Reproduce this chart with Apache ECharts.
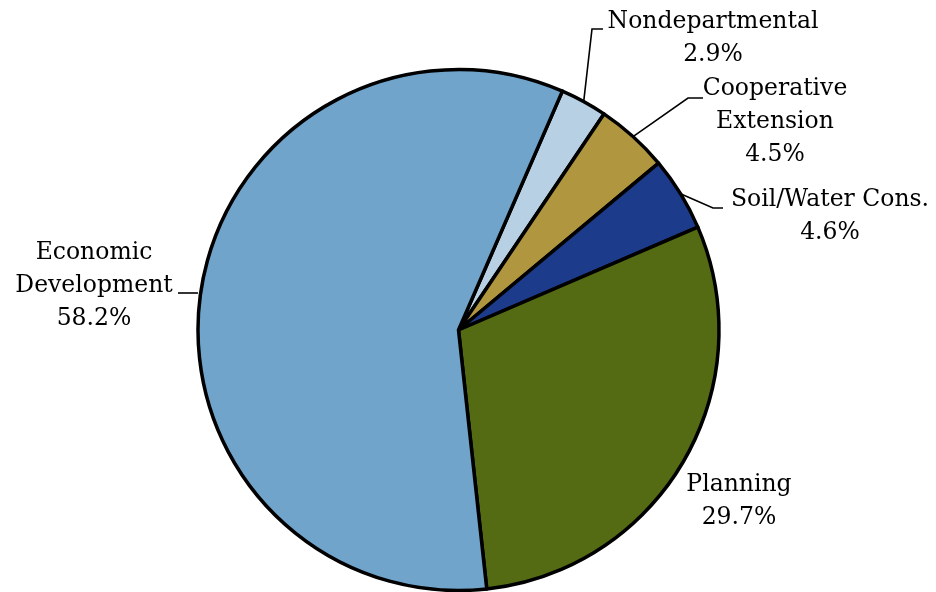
<!DOCTYPE html>
<html>
<head>
<meta charset="utf-8">
<script src="https://cdn.jsdelivr.net/npm/echarts@6/dist/echarts.min.js"></script>
<style>
  html, body { margin: 0; padding: 0; background: #ffffff; }
  #chart { width: 936px; height: 592px; }
</style>
</head>
<body>
<div id="chart"></div>
<script>
// Budget share by department (percent), listed clockwise from the top
const categories = ['Nondepartmental', 'Cooperative\nExtension', 'Soil/Water Cons.', 'Planning', 'Economic\nDevelopment'];
const shares = [2.9, 4.5, 4.6, 29.7, 58.2];
const sliceColors = ['#b8d0e4', '#b0963e', '#1d3b8b', '#546b13', '#70a4cb'];

// Where each label block sits, plus the bend and end of its leader line
const labelPlacement = [
  { x: 713, y: 38,  bend: [592, 29],  end: [603, 29] },
  { x: 775, y: 122, bend: [688, 98],  end: [703, 98] },
  { x: 830, y: 216, bend: [713, 208], end: [723, 208] },
  { x: 739, y: 501 },
  { x: 94,  y: 286, level: 293, bend: [187, 293], end: [178, 293] }
];

const chart = echarts.init(document.getElementById('chart'), null, { renderer: 'canvas' });

const seriesData = categories.map((name, i) => ({
  name: name,
  value: shares[i],
  itemStyle: { color: sliceColors[i] },
  labelLine: { show: !!labelPlacement[i].bend }
}));

chart.setOption({
  animation: false,
  backgroundColor: '#ffffff',
  series: [{
    type: 'pie',
    center: [458.5, 330],
    radius: 260.5,
    startAngle: 66.5,
    clockwise: true,
    avoidLabelOverlap: false,
    data: seriesData,
    itemStyle: { borderColor: '#000000', borderWidth: 3.5 },
    emphasis: { disabled: true },
    label: {
      show: true,
      position: 'outside',
      formatter: p => p.name + '\n' + p.value.toFixed(1) + '%',
      fontFamily: 'DejaVu Serif',
      fontSize: 23.5,
      lineHeight: 33,
      color: '#000000',
      align: 'center'
    },
    labelLine: {
      show: true,
      lineStyle: { color: '#000000', width: 1.6 }
    },
    labelLayout: function (params) {
      const spot = labelPlacement[params.dataIndex];
      const out = { x: spot.x, y: spot.y, align: 'center', verticalAlign: 'middle' };
      if (spot.bend && params.labelLinePoints) {
        let start = params.labelLinePoints[0];
        if (spot.level !== undefined) {
          // run the leader straight across, starting on the rim
          start = [start[0] - 3, spot.level];
        }
        out.labelLinePoints = [start, spot.bend, spot.end];
      }
      return out;
    }
  }]
});
</script>
</body>
</html>
